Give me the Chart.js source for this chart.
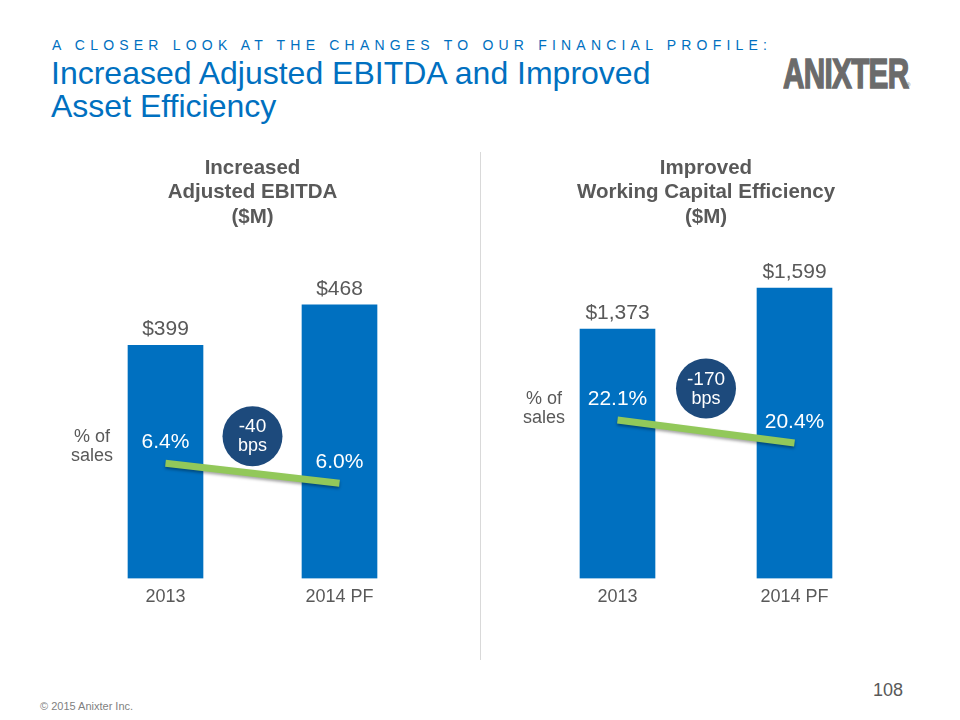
<!DOCTYPE html>
<html>
<head>
<meta charset="utf-8">
<title>Increased Adjusted EBITDA and Improved Asset Efficiency</title>
<script src="https://cdn.jsdelivr.net/npm/chart.js@4/dist/chart.umd.min.js"></script>
<style>
  body { margin: 0; background: #fff; font-family: "Liberation Sans", Arial, sans-serif; }
  #slide { position: relative; width: 960px; height: 720px; overflow: hidden; background: #fff; }
  .kicker { position: absolute; left: 52px; top: 37px; font-size: 14px; line-height: 16px; letter-spacing: 5.2px; color: #0070c0; white-space: nowrap; }
  .headline { position: absolute; left: 51px; top: 57px; font-size: 32px; line-height: 33px; color: #0070c0; }
  .logo { position: absolute; left: 783px; top: 49px; font-size: 43px; font-weight: bold; color: #6b6b6b; transform: scaleX(0.69); transform-origin: left top; letter-spacing: -1px; white-space: nowrap; -webkit-text-stroke: 1.5px #6b6b6b; }
  .reg { position: absolute; left: 906px; top: 82px; font-size: 6px; color: #6b6b6b; }
  .divider { position: absolute; left: 480px; top: 152px; width: 1px; height: 508px; background: #d9d9d9; }
  .footer { position: absolute; left: 40px; top: 700px; font-size: 11px; color: #7f7f7f; }
  .page { position: absolute; left: 873px; top: 680px; font-size: 18px; color: #595959; }
  canvas { position: absolute; top: 140px; }
  #ebitdaChart { left: 0px; }
  #wcChart { left: 490px; }
</style>
</head>
<body>
<div id="slide">
  <div class="kicker">A CLOSER LOOK AT THE CHANGES TO OUR FINANCIAL PROFILE:</div>
  <div class="headline">Increased Adjusted EBITDA and Improved<br>Asset Efficiency</div>
  <div class="logo">ANIXTER</div>
  <div class="reg">®</div>
  <div class="divider"></div>
  <canvas id="ebitdaChart" width="470" height="490"></canvas>
  <canvas id="wcChart" width="470" height="490"></canvas>
  <div class="footer">© 2015 Anixter Inc.</div>
  <div class="page">108</div>
</div>
<script>
const years = ["2013", "2014 PF"];

const ebitda = [399, 468];
const ebitdaPct = [6.4, 6.0];
const ebitdaTitle = ["Increased", "Adjusted EBITDA", "($M)"];

const workingCapital = [1373, 1599];
const workingCapitalPct = [22.1, 20.4];
const workingCapitalTitle = ["Improved", "Working Capital Efficiency", "($M)"];

const BLUE = "#0070c0";
const GREEN = "#92c85a";
const NAVY = "#1d4a7c";
const GRAY = "#595959";
const FONT = "'Liberation Sans', Arial, sans-serif";

Chart.defaults.font.family = FONT;

// value labels, % labels, "% of sales" and the bps bubble
const slideMarks = {
  id: "slideMarks",
  beforeDatasetDraw(chart, args) {
    if (args.index !== 1) return;
    const ctx = chart.ctx;
    ctx.save();
    ctx.shadowColor = "rgba(0,0,0,0.35)";
    ctx.shadowBlur = 3;
    ctx.shadowOffsetY = 2;
  },
  afterDatasetDraw(chart, args) {
    if (args.index === 1) chart.ctx.restore();
  },
  afterDatasetsDraw(chart, args, opts) {
    const ctx = chart.ctx;
    const bars = chart.getDatasetMeta(0).data;
    const pts = chart.getDatasetMeta(1).data;
    const values = chart.data.datasets[0].data;
    const pct = chart.data.datasets[1].data;
    ctx.save();
    ctx.textAlign = "center";
    ctx.textBaseline = "middle";

    ctx.fillStyle = GRAY;
    ctx.font = "21px " + FONT;
    bars.forEach((b, i) => {
      ctx.fillText("$" + values[i].toLocaleString("en-US"), b.x, b.y - 16);
    });

    ctx.fillStyle = "#fff";
    pts.forEach((p, i) => {
      ctx.fillText(pct[i].toFixed(1) + "%", p.x, p.y - 21);
    });

    const b0 = bars[0];
    const sx = b0.x - b0.width / 2 - 36;
    const sy = pts[0].y - 17 + opts.salesShift;
    ctx.fillStyle = GRAY;
    ctx.font = "18px " + FONT;
    ctx.fillText("% of", sx, sy - 9);
    ctx.fillText("sales", sx, sy + 10);

    const cx = (pts[0].x + pts[1].x) / 2;
    const cy = (pts[0].y + pts[1].y) / 2 - opts.bubbleLift;
    ctx.beginPath();
    ctx.arc(cx, cy, 30, 0, Math.PI * 2);
    ctx.fillStyle = NAVY;
    ctx.fill();
    const bps = Math.round((pct[1] - pct[0]) * 100);
    ctx.fillStyle = "#fff";
    ctx.font = "19px " + FONT;
    ctx.fillText(String(bps), cx, cy - 9);
    ctx.font = "18px " + FONT;
    ctx.fillText("bps", cx, cy + 10);
    ctx.restore();
  }
};

function makeChart(id, title, values, pct, o) {
  return new Chart(document.getElementById(id), {
    type: "bar",
    data: {
      labels: years,
      datasets: [
        {
          type: "bar",
          data: values,
          backgroundColor: BLUE,
          barThickness: 75,
          yAxisID: "y",
          order: 1
        },
        {
          type: "line",
          data: pct,
          borderColor: GREEN,
          borderWidth: 7,
          borderCapStyle: "butt",
          pointRadius: 0,
          tension: 0,
          yAxisID: "y2",
          order: 0
        }
      ]
    },
    options: {
      responsive: false,
      animation: false,
      layout: { padding: { left: o.padLeft, right: o.padRight, top: 0, bottom: 14 } },
      plugins: {
        legend: { display: false },
        tooltip: { enabled: false },
        title: {
          display: true,
          text: title,
          color: GRAY,
          font: { size: 20.5, weight: "bold", lineHeight: 1.2 },
          padding: { top: 15.7, bottom: 48.5 }
        },
        slideMarks: { bubbleLift: o.bubbleLift, salesShift: o.salesShift }
      },
      scales: {
        x: {
          grid: { display: false, drawTicks: false },
          border: { display: false },
          ticks: { color: GRAY, font: { size: 18 }, padding: 8 }
        },
        y: { display: false, min: 0, max: o.yMax },
        y2: { display: false, position: "right", min: o.pctMin, max: o.pctMax }
      }
    },
    plugins: [slideMarks]
  });
}

makeChart("ebitdaChart", ebitdaTitle, ebitda, ebitdaPct, {
  padLeft: 78.5, padRight: 43.5, yMax: 514, pctMin: 4.1, pctMax: 10.1, bubbleLift: 37, salesShift: 0
});
makeChart("wcChart", workingCapitalTitle, workingCapital, workingCapitalPct, {
  padLeft: 39, padRight: 77, yMax: 1654, pctMin: 10.4, pctMax: 32.6, bubbleLift: 43, salesShift: 5
});
</script>
</body>
</html>
